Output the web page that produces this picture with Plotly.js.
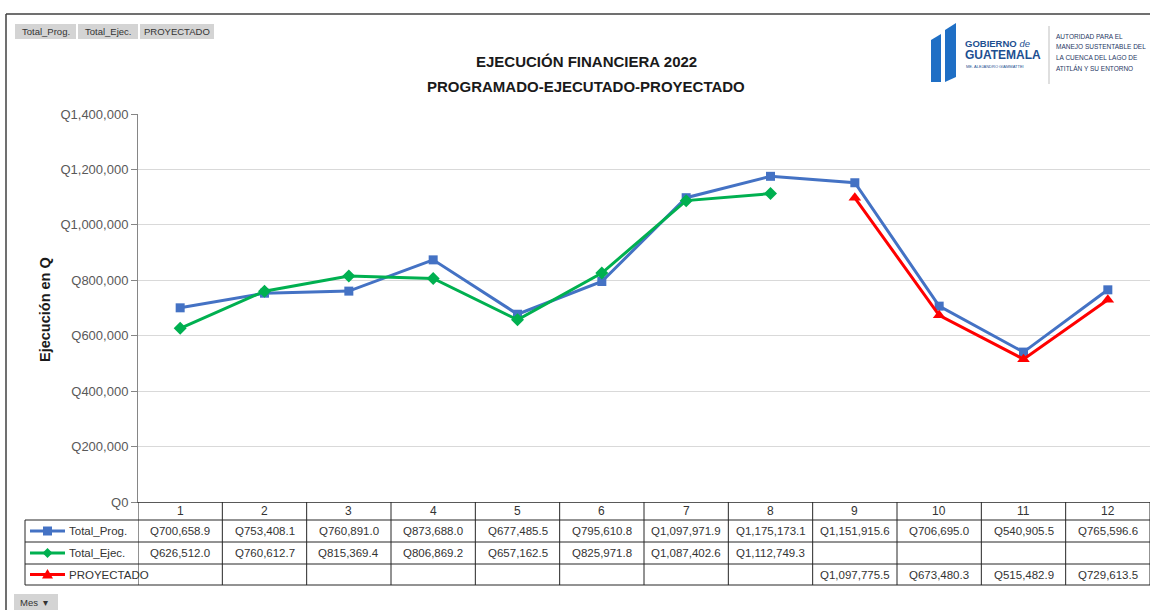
<!DOCTYPE html>
<html>
<head>
<meta charset="utf-8">
<script src="https://cdn.plot.ly/plotly-3.0.1.min.js"></script>
<style>html,body{margin:0;padding:0;background:#fff;}#chart{width:1150px;height:610px;}</style>
</head>
<body>
<div id="chart"></div>
<script>
// ---- data ----
var months = [1, 2, 3, 4, 5, 6, 7, 8, 9, 10, 11, 12];
var totalProg = [700658.9, 753408.1, 760891.0, 873688.0, 677485.5, 795610.8, 1097971.9, 1175173.1, 1151915.6, 706695.0, 540905.5, 765596.6];
var totalEjec = [626512.0, 760612.7, 815369.4, 806869.2, 657162.5, 825971.8, 1087402.6, 1112749.3, null, null, null, null];
var proyectado = [null, null, null, null, null, null, null, null, 1097775.5, 673480.3, 515482.9, 729613.5];
var seriesNames = ['Total_Prog.', 'Total_Ejec.', 'PROYECTADO'];
var yTickVals = [0, 200000, 400000, 600000, 800000, 1000000, 1200000, 1400000];
var yTickText = ['Q0', 'Q200,000', 'Q400,000', 'Q600,000', 'Q800,000', 'Q1,000,000', 'Q1,200,000', 'Q1,400,000'];
var titleLines = ['EJECUCIÓN FINANCIERA 2022', 'PROGRAMADO-EJECUTADO-PROYECTADO'];
var yTitle = 'Ejecución en Q';

// ---- layout helpers (pixel -> paper) ----
var L = 138, R = 1150, T = 114, B = 502;
function px(x) { return (x - L) / (R - L); }
function py(y) { return (B - y) / (B - T); }

var colors = ['#4472C4', '#00B050', '#FF0000'];
var symbols = ['square', 'diamond', 'triangle-up'];
var sizes = [9, 10, 11];
var font = 'Liberation Sans, Arial, sans-serif';

function fmtQ(v) {
  if (v === null || v === undefined) return '';
  var s = v.toFixed(1);
  var parts = s.split('.');
  parts[0] = parts[0].replace(/\B(?=(\d{3})+(?!\d))/g, ',');
  return 'Q' + parts.join('.');
}

var allSeries = [totalProg, totalEjec, proyectado];
var traces = allSeries.map(function (vals, i) {
  return {
    x: months, y: vals, name: seriesNames[i], type: 'scatter', mode: 'lines+markers',
    line: { color: colors[i], width: 3 },
    marker: { color: colors[i], symbol: symbols[i], size: sizes[i] },
    connectgaps: false, hoverinfo: 'x+y'
  };
});

var shapes = [];
var annotations = [];

// chart frame (top and left border)
shapes.push({ type: 'line', xref: 'paper', yref: 'paper', x0: px(6), x1: px(1150), y0: py(14), y1: py(14), line: { color: '#404040', width: 1.5 } });
shapes.push({ type: 'line', xref: 'paper', yref: 'paper', x0: px(6), x1: px(6), y0: py(14), y1: py(610), line: { color: '#404040', width: 1.5 } });

// titles
annotations.push({ xref: 'paper', yref: 'paper', x: px(586), y: py(61), text: '<b>' + titleLines[0] + '</b>', showarrow: false, font: { family: font, size: 15, color: '#1a1a1a' }, xanchor: 'center', yanchor: 'middle' });
annotations.push({ xref: 'paper', yref: 'paper', x: px(586), y: py(86), text: '<b>' + titleLines[1] + '</b>', showarrow: false, font: { family: font, size: 15, color: '#1a1a1a' }, xanchor: 'center', yanchor: 'middle' });
annotations.push({ xref: 'paper', yref: 'paper', x: px(45), y: py(310), text: '<b>' + yTitle + '</b>', textangle: -90, showarrow: false, font: { family: font, size: 14.5, color: '#1a1a1a' }, xanchor: 'center', yanchor: 'middle' });

// field buttons top-left
var btns = [[15, 76, seriesNames[0]], [78, 138, seriesNames[1]], [140, 214, seriesNames[2]]];
btns.forEach(function (b) {
  shapes.push({ type: 'rect', xref: 'paper', yref: 'paper', x0: px(b[0]), x1: px(b[1]), y0: py(24), y1: py(39), fillcolor: '#d4d4d4', line: { width: 0 } });
  annotations.push({ xref: 'paper', yref: 'paper', x: px((b[0] + b[1]) / 2), y: py(31.5), text: b[2], showarrow: false, font: { family: font, size: 9.5, color: '#333' }, xanchor: 'center', yanchor: 'middle' });
});
// Mes button
shapes.push({ type: 'rect', xref: 'paper', yref: 'paper', x0: px(14), x1: px(58), y0: py(594), y1: py(610), fillcolor: '#d4d4d4', line: { width: 0 } });
annotations.push({ xref: 'paper', yref: 'paper', x: px(18), y: py(602), text: 'Mes  ▾', showarrow: false, font: { family: font, size: 9.5, color: '#333' }, xanchor: 'left', yanchor: 'middle' });

// logo
shapes.push({ type: 'path', xref: 'paper', yref: 'paper', path: 'M' + px(931) + ',' + py(40) + ' L' + px(941) + ',' + py(34) + ' L' + px(941) + ',' + py(82) + ' L' + px(931) + ',' + py(82) + ' Z', fillcolor: '#1f6fc5', line: { width: 0 } });
shapes.push({ type: 'path', xref: 'paper', yref: 'paper', path: 'M' + px(945) + ',' + py(30) + ' L' + px(956) + ',' + py(23) + ' L' + px(956) + ',' + py(77) + ' L' + px(945) + ',' + py(82) + ' Z', fillcolor: '#1f6fc5', line: { width: 0 } });
annotations.push({ xref: 'paper', yref: 'paper', x: px(963), y: py(43), text: '<b>GOBIERNO</b> <i>de</i>', showarrow: false, font: { family: font, size: 9.5, color: '#1d4f91' }, xanchor: 'left', yanchor: 'middle' });
annotations.push({ xref: 'paper', yref: 'paper', x: px(963), y: py(55), text: '<b>GUATEMALA</b>', showarrow: false, font: { family: font, size: 12, color: '#1d4f91' }, xanchor: 'left', yanchor: 'middle' });
annotations.push({ xref: 'paper', yref: 'paper', x: px(964), y: py(66), text: 'ME. ALEJANDRO GIAMMATTEI', showarrow: false, font: { family: font, size: 4, color: '#1d4f91' }, xanchor: 'left', yanchor: 'middle' });
shapes.push({ type: 'line', xref: 'paper', yref: 'paper', x0: px(1049), x1: px(1049), y0: py(26), y1: py(84), line: { color: '#bfbfbf', width: 1 } });
var logoTxt = ['AUTORIDAD PARA EL', 'MANEJO SUSTENTABLE DEL', 'LA CUENCA DEL LAGO DE', 'ATITLÁN Y SU ENTORNO'];
logoTxt.forEach(function (t, i) {
  annotations.push({ xref: 'paper', yref: 'paper', x: px(1054), y: py(36 + i * 10.5), text: t, showarrow: false, font: { family: font, size: 6.5, color: '#1f3864' }, xanchor: 'left', yanchor: 'middle' });
});

// data table
var rowLines = [520, 542, 564, 585];
rowLines.forEach(function (yy) {
  shapes.push({ type: 'line', xref: 'paper', yref: 'paper', x0: px(25), x1: px(1150), y0: py(yy), y1: py(yy), line: { color: '#262626', width: 1 } });
});
shapes.push({ type: 'line', xref: 'paper', yref: 'paper', x0: px(25), x1: px(25), y0: py(520), y1: py(585), line: { color: '#262626', width: 1 } });
for (var k = 0; k <= months.length; k++) {
  shapes.push({ type: 'line', xref: 'x', yref: 'paper', x0: months[0] - 0.5 + k, x1: months[0] - 0.5 + k, y0: py(502), y1: py(585), line: { color: '#262626', width: 1 } });
}
months.forEach(function (m) {
  annotations.push({ xref: 'x', yref: 'paper', x: m, y: py(511), text: String(m), showarrow: false, font: { family: font, size: 12, color: '#333' }, xanchor: 'center', yanchor: 'middle' });
});
var rowCenters = [531, 553, 574.5];
allSeries.forEach(function (vals, i) {
  vals.forEach(function (v, j) {
    if (v === null) return;
    annotations.push({ xref: 'x', yref: 'paper', x: months[j], y: py(rowCenters[i]), text: fmtQ(v), showarrow: false, font: { family: font, size: 11.5, color: '#333' }, xanchor: 'center', yanchor: 'middle' });
  });
  // legend key
  var cy = rowCenters[i];
  shapes.push({ type: 'line', xref: 'paper', yref: 'paper', x0: px(30), x1: px(65), y0: py(cy), y1: py(cy), line: { color: colors[i], width: 3 } });
  var mx = 47.5;
  var path;
  if (i === 0) path = 'M' + px(mx - 4.5) + ',' + py(cy - 4.5) + ' L' + px(mx + 4.5) + ',' + py(cy - 4.5) + ' L' + px(mx + 4.5) + ',' + py(cy + 4.5) + ' L' + px(mx - 4.5) + ',' + py(cy + 4.5) + ' Z';
  else if (i === 1) path = 'M' + px(mx) + ',' + py(cy - 5) + ' L' + px(mx + 5) + ',' + py(cy) + ' L' + px(mx) + ',' + py(cy + 5) + ' L' + px(mx - 5) + ',' + py(cy) + ' Z';
  else path = 'M' + px(mx) + ',' + py(cy - 5.5) + ' L' + px(mx + 5.5) + ',' + py(cy + 4) + ' L' + px(mx - 5.5) + ',' + py(cy + 4) + ' Z';
  shapes.push({ type: 'path', xref: 'paper', yref: 'paper', path: path, fillcolor: colors[i], line: { width: 0 } });
  annotations.push({ xref: 'paper', yref: 'paper', x: px(67), y: py(cy), text: seriesNames[i], showarrow: false, font: { family: font, size: 11.5, color: '#333' }, xanchor: 'left', yanchor: 'middle' });
});

var layout = {
  width: 1150, height: 610,
  margin: { l: L, r: 1150 - R, t: T, b: 610 - B, pad: 0 },
  paper_bgcolor: '#ffffff', plot_bgcolor: '#ffffff',
  showlegend: false,
  font: { family: font, color: '#595959' },
  xaxis: {
    range: [0.5, 12.5], showticklabels: false, showgrid: false, zeroline: false,
    showline: true, linecolor: '#595959', linewidth: 1, ticks: '', fixedrange: true
  },
  yaxis: {
    range: [0, 1400000], tickmode: 'array', tickvals: yTickVals, ticktext: yTickText,
    showgrid: true, gridcolor: '#d9d9d9', gridwidth: 1,
    zeroline: false, showline: true, linecolor: '#868686', linewidth: 1,
    ticks: 'outside', ticklen: 6, tickcolor: '#868686', tickfont: { family: font, size: 13, color: '#595959' },
    fixedrange: true
  },
  shapes: shapes,
  annotations: annotations
};

Plotly.newPlot('chart', traces, layout, { displayModeBar: false, staticPlot: true });
</script>
</body>
</html>
